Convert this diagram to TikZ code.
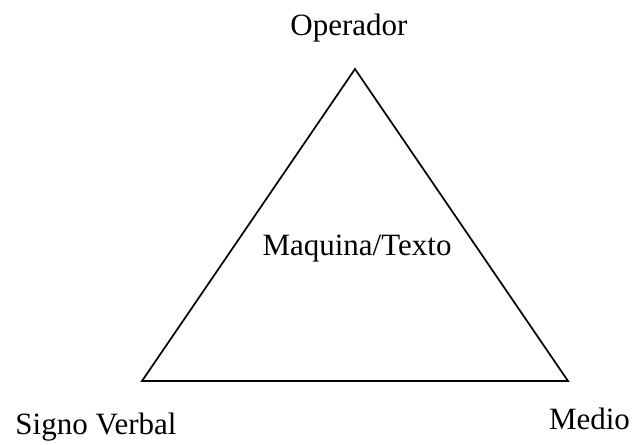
\documentclass[tikz,border=0pt]{standalone}
\usepackage{fontspec}
\setmainfont{Liberation Serif}
\begin{document}
\begin{tikzpicture}[x=1pt,y=-1pt,
  lbl/.style={anchor=base,inner sep=0pt,font=\fontsize{31}{37}\selectfont},
  tri/.style={draw=black,line width=1.7pt,line join=miter}]
\useasboundingbox (0,0) rectangle (633,445);
\coordinate (top) at (355,69);
\coordinate (bl) at (142,381);
\coordinate (br) at (568,381);
\draw[tri] (top) -- (bl) -- (br) -- cycle;
\node[lbl] (op) at (349,35) {Operador};
\node[lbl] (mt) at (357,255) {Maquina/Texto};
\node[lbl] (sv) at (96,434) {Signo Verbal};
\node[lbl] (me) at (589.5,429) {Medio};
\end{tikzpicture}
\end{document}
